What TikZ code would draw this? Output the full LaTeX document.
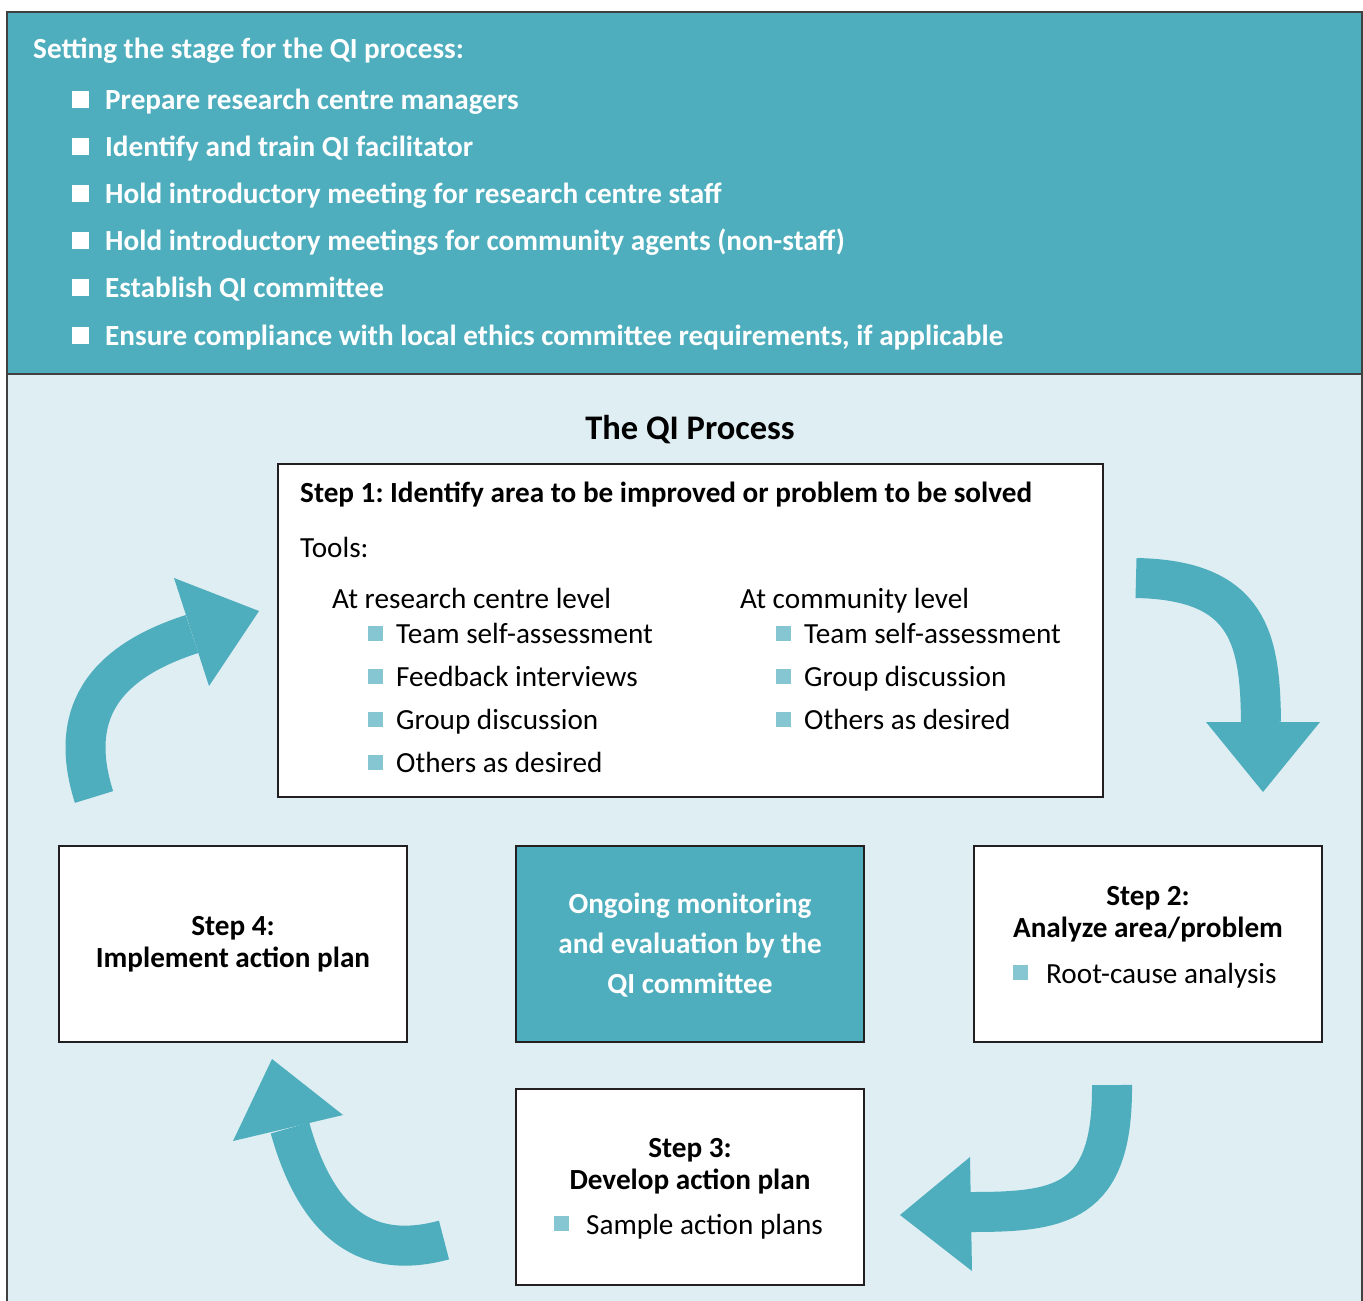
\documentclass[tikz,border=0pt]{standalone}
\usepackage{fontspec}
\setmainfont{Carlito}
\usetikzlibrary{positioning}
\frenchspacing

\definecolor{qiteal}{HTML}{4EAEBD}
\definecolor{qilight}{HTML}{DFEEF3}
\definecolor{qibullet}{HTML}{86C6D2}
\definecolor{qiedge}{HTML}{231F20}

\tikzset{
  frameline/.style={draw=black!75, line width=2pt},
  stepbox/.style={draw=qiedge, line width=2.5pt, fill=white, minimum width=348pt, minimum height=196pt, inner sep=0pt},
  hubbox/.style={stepbox, fill=qiteal},
  flowbody/.style={draw=qiteal, line width=40pt},
  flowhead/.style={fill=qiteal},
  headtxt/.style={font=\bfseries\fontsize{29.2}{35}\selectfont, inner sep=0pt},
  bodytxt/.style={font=\fontsize{29.2}{35}\selectfont, inner sep=0pt},
  stagetxt/.style={headtxt, text=white},
  wbullet/.style={fill=white, minimum size=17pt, inner sep=0pt},
  tbullet/.style={fill=qibullet, minimum size=15pt, inner sep=0pt}
}

\begin{document}
\begin{tikzpicture}[x=1pt, y=-1pt]
    \useasboundingbox (0,0) rectangle (1363,1301);
    % the two panels
    \fill[qiteal] (7,12) rectangle (1362,374);
    \fill[qilight] (7,374) rectangle (1362,1301);
    \draw[frameline] (7,1301) -- (7,12) -- (1362,12) -- (1362,1301);
    \draw[frameline] (7,374) -- (1362,374);

    % setting the stage
    \node[stagetxt, anchor=base west] (stage) at (33,58) {Setting the stage for the QI process:};
    \foreach \txt [count=\i] in {Prepare research centre managers, Identify and train QI facilitator,
      Hold introductory meeting for research centre staff,
      Hold introductory meetings for community agents (non-staff), Establish QI committee,
      {Ensure compliance with local ethics committee requirements, if applicable}} {
      \node[wbullet] (sb\i) at (80, {109+47.2*(\i-1)-10}) {};
      \node[stagetxt, anchor=base west] (st\i) at (105, {109+47.2*(\i-1)}) {\txt};
    }

    \node[font=\bfseries\fontsize{34.5}{41}\selectfont, inner sep=0pt, anchor=base] (qititle) at (690,439) {The QI Process};

    % step 1
    \node[stepbox, minimum width=825pt, minimum height=333pt] (step1) at (690.5,630.5) {};
    \node[headtxt, anchor=base west] (s1head) at (300,502) {Step 1: Identify area to be improved or problem to be solved};
    \node[bodytxt, anchor=base west] (s1tools) at (300,557) {Tools:};
    \node[bodytxt, anchor=base west] (s1rc) at (332,608) {At research centre level};
    \node[bodytxt, anchor=base west] (s1cl) at (740,608) {At community level};
    \foreach \txt [count=\i] in {Team self-assessment, Feedback interviews, Group discussion, Others as desired} {
      \node[tbullet] (rcb\i) at (375, {643+43.3*(\i-1)-10}) {};
      \node[bodytxt, anchor=base west] (rct\i) at (396, {643+43.3*(\i-1)}) {\txt};
    }
    \foreach \txt [count=\i] in {Team self-assessment, Group discussion, Others as desired} {
      \node[tbullet] (clb\i) at (783, {643+43.3*(\i-1)-10}) {};
      \node[bodytxt, anchor=base west] (clt\i) at (804, {643+43.3*(\i-1)}) {\txt};
    }

    % step 4, hub, step 2
    \node[stepbox] (step4) at (233,944) {};
    \node[headtxt, anchor=base] (s4a) at (233,935) {Step 4:};
    \node[headtxt, anchor=base] (s4b) at (233,967) {Implement action plan};

    \node[hubbox] (hub) at (690,944) {};
    \node[stagetxt, anchor=base] (huba) at (690,913) {Ongoing monitoring};
    \node[stagetxt, anchor=base] (hubb) at (690,953) {and evaluation by the};
    \node[stagetxt, anchor=base] (hubc) at (690,993) {QI committee};

    \node[stepbox] (step2) at (1148,944) {};
    \node[headtxt, anchor=base] (s2a) at (1148,905) {Step 2:};
    \node[headtxt, anchor=base] (s2b) at (1148,937) {Analyze area/problem};
    \node[tbullet] (s2bul) at (1020,972) {};
    \node[bodytxt, anchor=base west] (s2tool) at (1046,983) {Root-cause analysis};

    % step 3
    \node[stepbox] (step3) at (690,1187) {};
    \node[headtxt, anchor=base] (s3a) at (690,1157) {Step 3:};
    \node[headtxt, anchor=base] (s3b) at (690,1189) {Develop action plan};
    \node[tbullet] (s3bul) at (561,1223) {};
    \node[bodytxt, anchor=base west] (s3tool) at (586,1234) {Sample action plans};

    % cycle arrows
    \coordinate (a1tail) at (1136,578);
    \coordinate (a1base) at (1261,722);
    \draw[flowbody] (a1tail) .. controls (1250,580) and (1260,640) .. (a1base);
    \fill[flowhead] (1206,722) -- (1263,792) -- (1320,722) -- cycle;

    \coordinate (a2tail) at (1112,1085);
    \coordinate (a2base) at (970,1212);
    \draw[flowbody] (a2tail) .. controls (1113,1205) and (1060,1212) .. (a2base);
    \fill[flowhead] (970,1157) -- (900,1215) -- (972,1271) -- cycle;

    \coordinate (a3tail) at (444,1240);
    \coordinate (a3base) at (290,1128);
    \draw[flowbody] (a3tail) .. controls (370,1260) and (318,1228) .. (a3base);
    \fill[flowhead] (233,1141) -- (272,1059) -- (343,1115) -- cycle;

    \coordinate (a4tail) at (94,797);
    \coordinate (a4base) at (192,634);
    \draw[flowbody] (a4tail) .. controls (68,715) and (102,663) .. (a4base);
    \fill[flowhead] (174,578) -- (259,611) -- (209,686) -- cycle;
\end{tikzpicture}
\end{document}
